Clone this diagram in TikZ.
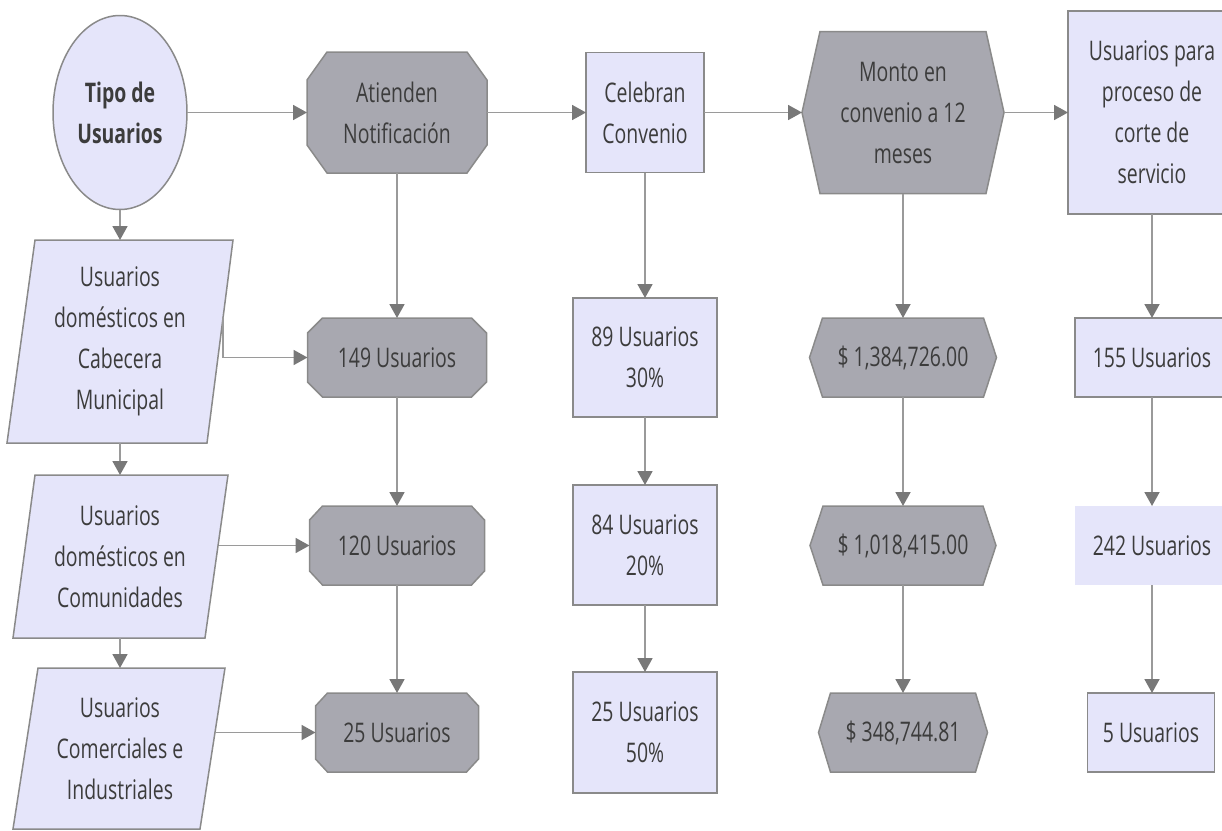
\documentclass[tikz,border=0pt]{standalone}
\usepackage{fontspec}
\setmainfont{Open Sans}[FakeStretch=0.72]
\usetikzlibrary{shapes.geometric,arrows.meta}
\definecolor{lightfill}{HTML}{E5E5FA}
\definecolor{darkfill}{HTML}{A8A8B0}
\definecolor{edgec}{HTML}{8A8A8A}
\definecolor{txtc}{HTML}{3C3C3C}
\definecolor{linec}{HTML}{9A9A9A}
\definecolor{headc}{HTML}{787878}
\tikzset{
  lightshape/.style={fill=lightfill, draw=edgec, line width=1.5pt},
  darkshape/.style={fill=darkfill, draw=edgec, line width=1.5pt},
  txt/.style={text=txtc, font=\fontsize{27}{41}\selectfont, align=center, inner sep=0pt, outer sep=0pt},
  arr/.style={draw=linec, line width=1.8pt, -{Triangle[length=14pt,width=15pt,color=headc]}},
}
% octagon: name, cx, cy, half width, half height, chamfer x, chamfer y, text
\newcommand\octa[8]{%
  \filldraw[darkshape] (#2-#4+#6,#3-#5) -- (#2+#4-#6,#3-#5) -- (#2+#4,#3-#5+#7) -- (#2+#4,#3+#5-#7)
    -- (#2+#4-#6,#3+#5) -- (#2-#4+#6,#3+#5) -- (#2-#4,#3+#5-#7) -- (#2-#4,#3-#5+#7) -- cycle;
  \node[txt, minimum width={2*#4}, minimum height={2*#5}] (#1) at (#2,#3) {#8};
}
% hexagon: name, cx, cy, half width, half height, indent, text
\newcommand\hexa[7]{%
  \filldraw[darkshape] (#2-#4,#3) -- (#2-#4+#6,#3-#5) -- (#2+#4-#6,#3-#5) -- (#2+#4,#3)
    -- (#2+#4-#6,#3+#5) -- (#2-#4+#6,#3+#5) -- cycle;
  \node[txt, minimum width={2*#4}, minimum height={2*#5}] (#1) at (#2,#3) {#7};
}
% parallelogram: name, ytop, ybot, x top left, x top right, x bottom left, x bottom right, text
\newcommand\parashape[8]{%
  \filldraw[lightshape] (#4,#2) -- (#5,#2) -- (#7,#3) -- (#6,#3) -- cycle;
  \node[txt, minimum height={#3-#2}] (#1) at (120,{(#2+#3)/2}) {#8};
}
\begin{document}
\begin{tikzpicture}[x=1pt,y=-1pt]
\useasboundingbox (0,0) rectangle (1222,830);
\clip (0,0) rectangle (1222,830);

% top row
\node[lightshape, ellipse, txt, minimum width=134pt, minimum height=194pt] (tipo) at (120,112.5) {\bfseries Tipo de\\\bfseries Usuarios};
\octa{atienden}{397}{112.5}{90}{60.5}{20}{28}{Atienden\\Notificación}
\node[lightshape, txt, minimum width=118pt, minimum height=120pt] (celebran) at (645,112.5) {Celebran\\Convenio};
\hexa{monto}{903}{112.5}{101}{81}{18}{Monto en\\convenio a 12\\meses}
\node[lightshape, txt, minimum width=168pt, minimum height=203pt] (corte) at (1152,112.5) {Usuarios para\\proceso de\\corte de\\servicio};

% left column
\parashape{p1}{240}{443}{35}{233}{7}{207}{Usuarios\\domésticos en\\Cabecera\\Municipal}
\parashape{p2}{475}{638}{35}{228}{13}{205}{Usuarios\\domésticos en\\Comunidades}
\parashape{p3}{668}{829}{38}{225}{13}{200}{Usuarios\\Comerciales e\\Industriales}
\coordinate (p1r) at (223,317);
\coordinate (p2r) at (219,545.5);
\coordinate (p3r) at (215,732.5);

% second column
\octa{o149}{397}{357.5}{89.5}{39.5}{15}{15}{149 Usuarios}
\octa{o120}{397}{545.5}{87.5}{39.5}{13}{14}{120 Usuarios}
\octa{o25}{397}{732.5}{81.5}{39.5}{12}{13}{25 Usuarios}

% third column
\node[lightshape, txt, minimum width=144pt, minimum height=119pt] (b89) at (645,357.5) {89 Usuarios\\30\%};
\node[lightshape, txt, minimum width=144pt, minimum height=120pt] (b84) at (645,545) {84 Usuarios\\20\%};
\node[lightshape, txt, minimum width=144pt, minimum height=121pt] (b25) at (645,732.5) {25 Usuarios\\50\%};

% fourth column
\hexa{h1}{903}{357.5}{93.5}{39.5}{13}{\$ 1,384,726.00}
\hexa{h2}{903}{545.5}{93}{39.5}{13}{\$ 1,018,415.00}
\hexa{h3}{903}{732.5}{84.5}{39.5}{12}{\$ 348,744.81}

% fifth column
\node[lightshape, txt, minimum width=154pt, minimum height=79pt] (u155) at (1152,357.5) {155 Usuarios};
\node[fill=lightfill, txt, minimum width=154pt, minimum height=79pt] (u242) at (1152,545.5) {242 Usuarios};
\node[lightshape, txt, minimum width=127pt, minimum height=79pt] (u5) at (1151,732.5) {5 Usuarios};

% connectors: top row
\draw[arr] (tipo.east) -- (atienden.west);
\draw[arr] (atienden.east) -- (celebran.west);
\draw[arr] (celebran.east) -- (monto.west);
\draw[arr] (monto.east) -- (corte.west);

% left column
\draw[arr] (tipo.south) -- (p1.north);
\draw[arr] (p1.south) -- (p2.north);
\draw[arr] (p2.south) -- (p3.north);
\draw[arr] (p1r) |- (o149.west);
\draw[arr] (p2r) -- (o120.west);
\draw[arr] (p3r) -- (o25.west);

% vertical chains
\draw[arr] (atienden.south) -- (o149.north);
\draw[arr] (o149.south) -- (o120.north);
\draw[arr] (o120.south) -- (o25.north);
\draw[arr] (celebran.south) -- (b89.north);
\draw[arr] (b89.south) -- (b84.north);
\draw[arr] (b84.south) -- (b25.north);
\draw[arr] (monto.south) -- (h1.north);
\draw[arr] (h1.south) -- (h2.north);
\draw[arr] (h2.south) -- (h3.north);
\draw[arr] (corte.south) -- (u155.north);
\draw[arr] (u155.south) -- (u242.north);
\draw[arr] (u242.south) -- (u242.south |- u5.north);
\end{tikzpicture}
\end{document}
